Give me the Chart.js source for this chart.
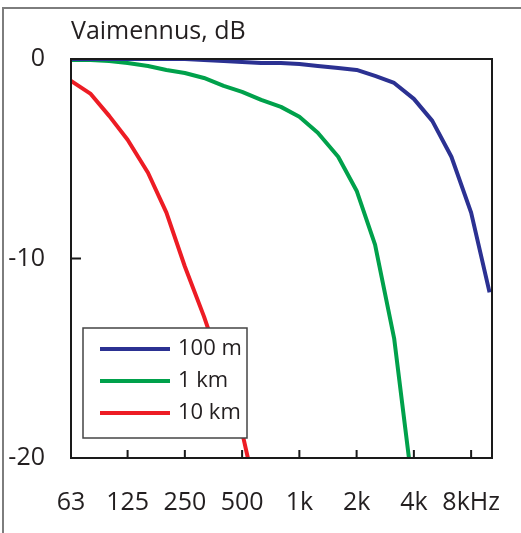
<!DOCTYPE html>
<html>
<head>
<meta charset="utf-8">
<script src="https://cdn.jsdelivr.net/npm/chart.js@4.4.1/dist/chart.umd.min.js"></script>
<style>
  html, body { margin: 0; padding: 0; background: #fff; }
  #wrap { position: relative; width: 521px; height: 533px; overflow: hidden; }
  #frame { position: absolute; left: 2px; top: 7px; width: 600px; height: 600px;
           border: 2px solid #7d7d7d; pointer-events: none; }
</style>
</head>
<body>
<div id="wrap">
  <canvas id="chart" width="521" height="533"></canvas>
  <div id="frame"></div>
</div>
<script>
// third-octave band centre frequencies, Hz
var freqs = [63, 80, 100, 125, 160, 200, 250, 315, 400, 500, 630, 800, 1000, 1250, 1600, 2000, 2500, 3150, 4000, 5000, 6300, 8000, 10000];

// attenuation in dB
var att100m = [0, 0, 0, 0, 0, 0, 0, -0.05, -0.1, -0.15, -0.2, -0.2, -0.25, -0.35, -0.45, -0.55, -0.85, -1.2, -2.0, -3.1, -4.9, -7.7, -11.7];
var att1km  = [-0.05, -0.05, -0.1, -0.2, -0.35, -0.55, -0.7, -0.95, -1.35, -1.65, -2.05, -2.4, -2.9, -3.7, -4.9, -6.6, -9.3, -14.0, -22];
var att10km = [-1.1, -1.75, -2.85, -4.05, -5.7, -7.7, -10.4, -12.9, -15.8, -18.7, -23];

var tickFreqs = [63, 125, 250, 500, 1000, 2000, 4000, 8000];
var tickLabels = ['63', '125', '250', '500', '1k', '2k', '4k', '8kHz'];
var seriesNames = ['100 m', '1 km', '10 km'];
var seriesColors = ['#2b3192', '#00a14b', '#ed1c24'];

function points(vals)
{
  var out = [];
  for(var i=0;i<vals.length;i++) out.push({x: freqs[i], y: vals[i]});
  return out;
}

var FONT = '"Open Sans", sans-serif';
var TEXT = '#231f20';

var frameAndLegend = {
  id: 'frameAndLegend',
  afterDatasetsDraw: function(chart)
  {
    var ctx = chart.ctx;
    var a = chart.chartArea;
    var xs = chart.scales.x, ys = chart.scales.y;
    ctx.save();

    // inward tick marks
    ctx.strokeStyle = '#1a1a1a';
    ctx.lineWidth = 2;
    ctx.beginPath();
    tickFreqs.forEach(function(f, i)
    {
      if(i==0) return;
      var px = xs.getPixelForValue(f);
      ctx.moveTo(px, a.bottom);
      ctx.lineTo(px, a.bottom - 8);
    });
    var py = ys.getPixelForValue(-10);
    ctx.moveTo(a.left, py);
    ctx.lineTo(a.left + 10, py);
    ctx.stroke();

    // plot frame
    ctx.strokeRect(a.left, a.top, a.right - a.left, a.bottom - a.top);

    // legend box
    var bx = a.left + 12, by = a.bottom - 130, bw = 164, bh = 110;
    ctx.fillStyle = '#fff';
    ctx.fillRect(bx, by, bw, bh);
    ctx.strokeStyle = '#444';
    ctx.lineWidth = 1.5;
    ctx.strokeRect(bx, by, bw, bh);

    ctx.font = '22px ' + FONT;
    ctx.textBaseline = 'middle';
    ctx.textAlign = 'left';
    chart.data.datasets.forEach(function(ds, i)
    {
      var ly = by + 21 + i*32;
      ctx.strokeStyle = ds.borderColor;
      ctx.lineWidth = 4;
      ctx.beginPath();
      ctx.moveTo(bx + 17, ly);
      ctx.lineTo(bx + 87, ly);
      ctx.stroke();
      ctx.fillStyle = TEXT;
      ctx.fillText(ds.label, bx + 95, ly);
    });

    // title
    ctx.font = '25px ' + FONT;
    ctx.textBaseline = 'alphabetic';
    ctx.fillText('Vaimennus, dB', a.left, 39);
    ctx.restore();
  }
};

new Chart(document.getElementById('chart').getContext('2d'), {
  type: 'line',
  data: {
    datasets: [
      {label: seriesNames[0], data: points(att100m), borderColor: seriesColors[0]},
      {label: seriesNames[1], data: points(att1km), borderColor: seriesColors[1]},
      {label: seriesNames[2], data: points(att10km), borderColor: seriesColors[2]}
    ]
  },
  options: {
    responsive: false,
    animation: false,
    layout: {padding: {top: 59, right: 29, left: 0, bottom: 0}},
    elements: {
      line: {borderWidth: 4, tension: 0, borderJoinStyle: 'round', fill: false},
      point: {radius: 0, hoverRadius: 0}
    },
    plugins: {legend: {display: false}, tooltip: {enabled: false}},
    scales: {
      x: {
        type: 'logarithmic',
        min: 63,
        max: 10300,
        grid: {display: false, drawTicks: false},
        border: {display: false},
        afterBuildTicks: function(s) { s.ticks = tickFreqs.map(function(f){ return {value: f}; }); },
        afterFit: function(s) { s.height = 75; s.paddingLeft = 0; s.paddingRight = 0; },
        ticks: {
          autoSkip: false,
          maxRotation: 0,
          padding: 30,
          color: TEXT,
          font: {family: FONT, size: 25},
          callback: function(v, i) { return tickLabels[i]; }
        }
      },
      y: {
        min: -20,
        max: 0,
        grid: {display: false, drawTicks: false},
        border: {display: false},
        afterFit: function(s) { s.width = 71; s.paddingTop = 0; s.paddingBottom = 0; },
        ticks: {
          stepSize: 10,
          padding: 26,
          color: TEXT,
          font: {family: FONT, size: 25}
        }
      }
    }
  },
  plugins: [frameAndLegend]
});
</script>
</body>
</html>
